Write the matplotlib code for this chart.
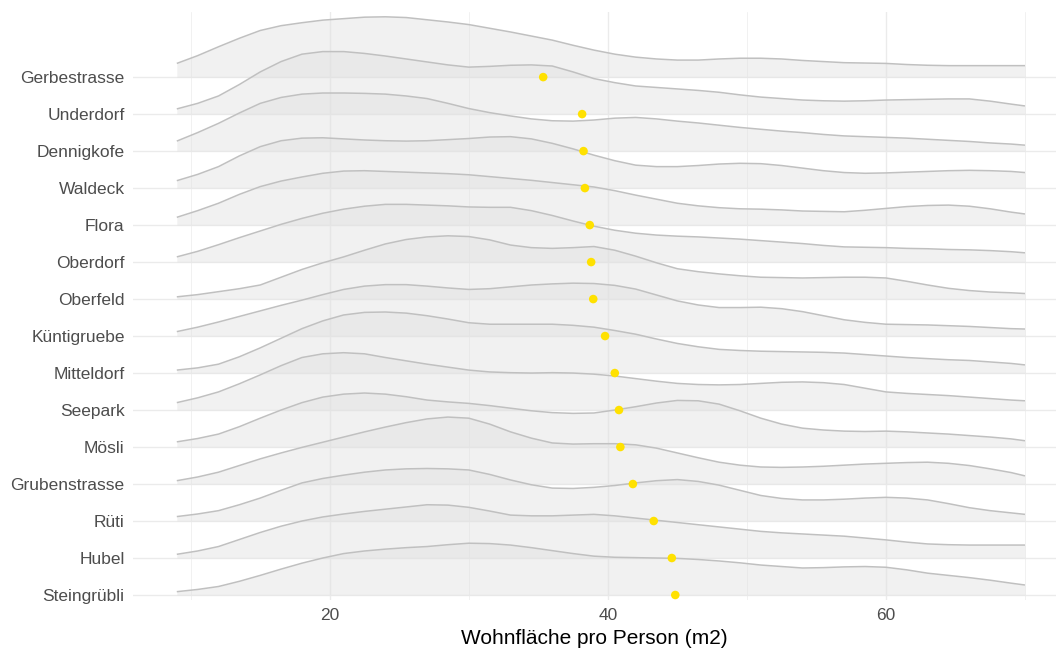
import matplotlib
matplotlib.use("Agg")
import matplotlib.pyplot as plt

plt.rcParams["font.family"] = ["Liberation Sans", "DejaVu Sans"]

# sample positions of the density outlines (m2 per person)
x_grid = [9, 10.5, 12, 13.5, 15, 16.5, 18, 19.5, 21, 22.5, 24, 25.5, 27, 28.5,
          30, 31.5, 33, 34.5, 36, 37.5, 39, 40.5, 42, 43.5, 45, 46.5, 48, 49.5,
          51, 52.5, 54, 55.5, 57, 58.5, 60, 61.5, 63, 64.5, 66, 67.5, 69, 70]

# categories bottom -> top
quartiere = ["Steingrübli", "Hubel", "Rüti", "Grubenstrasse", "Mösli", "Seepark",
             "Mitteldorf", "Küntigruebe", "Oberfeld", "Oberdorf", "Flora",
             "Waldeck", "Dennigkofe", "Underdorf", "Gerbestrasse"]

# mean living space per quarter (yellow dots)
mittelwert = [44.85, 44.6, 43.3, 41.8, 40.9, 40.8, 40.5, 39.8, 38.95, 38.8,
              38.7, 38.35, 38.25, 38.15, 35.35]

# ridge heights (scaled density, in row units) at x_grid
steingruebli = [0.09, 0.15, 0.23, 0.37, 0.53, 0.70, 0.86, 1.00, 1.12, 1.19, 1.24,
                1.28, 1.31, 1.36, 1.40, 1.39, 1.35, 1.28, 1.20, 1.12, 1.05, 1.02,
                1.01, 1.00, 0.99, 0.96, 0.92, 0.87, 0.81, 0.77, 0.73, 0.74, 0.76,
                0.77, 0.75, 0.68, 0.59, 0.53, 0.47, 0.40, 0.32, 0.27]
hubel = [0.10, 0.19, 0.31, 0.50, 0.69, 0.86, 1.00, 1.11, 1.19, 1.26, 1.32, 1.38,
         1.44, 1.43, 1.37, 1.27, 1.16, 1.14, 1.14, 1.16, 1.18, 1.14, 1.08, 1.02,
         0.96, 0.90, 0.84, 0.78, 0.72, 0.68, 0.65, 0.62, 0.59, 0.54, 0.49, 0.43,
         0.38, 0.36, 0.35, 0.35, 0.35, 0.35]
rueti = [0.12, 0.19, 0.28, 0.44, 0.62, 0.83, 1.03, 1.15, 1.24, 1.32, 1.38, 1.41,
         1.42, 1.41, 1.38, 1.26, 1.11, 0.98, 0.89, 0.88, 0.91, 0.96, 1.03, 1.09,
         1.12, 1.07, 0.97, 0.83, 0.69, 0.61, 0.57, 0.57, 0.59, 0.62, 0.64, 0.62,
         0.57, 0.47, 0.36, 0.28, 0.22, 0.18]
grubenstrasse = [0.09, 0.19, 0.32, 0.50, 0.68, 0.84, 0.99, 1.13, 1.27, 1.41, 1.54,
                 1.66, 1.76, 1.81, 1.78, 1.62, 1.41, 1.24, 1.11, 1.08, 1.09, 1.09,
                 1.06, 0.97, 0.84, 0.71, 0.59, 0.51, 0.46, 0.45, 0.46, 0.48, 0.51,
                 0.54, 0.56, 0.58, 0.59, 0.56, 0.50, 0.41, 0.31, 0.22]
moesli = [0.14, 0.23, 0.35, 0.55, 0.78, 1.00, 1.20, 1.35, 1.43, 1.46, 1.43, 1.36,
          1.27, 1.22, 1.18, 1.12, 1.05, 0.98, 0.93, 0.91, 0.92, 1.00, 1.09, 1.19,
          1.26, 1.25, 1.16, 0.98, 0.78, 0.62, 0.51, 0.46, 0.43, 0.42, 0.43, 0.41,
          0.38, 0.35, 0.31, 0.27, 0.22, 0.17]
seepark = [0.20, 0.33, 0.49, 0.71, 0.95, 1.20, 1.42, 1.52, 1.55, 1.52, 1.42, 1.33,
           1.24, 1.16, 1.08, 1.03, 1.01, 1.00, 1.01, 1.00, 0.97, 0.92, 0.85, 0.78,
           0.72, 0.69, 0.68, 0.69, 0.72, 0.75, 0.76, 0.74, 0.69, 0.59, 0.49, 0.45,
           0.42, 0.39, 0.35, 0.31, 0.27, 0.25]
mitteldorf = [0.08, 0.14, 0.24, 0.44, 0.68, 0.94, 1.20, 1.41, 1.57, 1.64, 1.65,
              1.62, 1.55, 1.46, 1.36, 1.32, 1.32, 1.32, 1.32, 1.29, 1.24, 1.15,
              1.05, 0.92, 0.80, 0.71, 0.64, 0.61, 0.59, 0.58, 0.57, 0.56, 0.54,
              0.50, 0.46, 0.42, 0.39, 0.36, 0.34, 0.30, 0.26, 0.22]
kuentigruebe = [0.12, 0.24, 0.38, 0.53, 0.68, 0.83, 0.97, 1.12, 1.26, 1.35, 1.39,
                1.39, 1.35, 1.30, 1.26, 1.28, 1.33, 1.38, 1.41, 1.43, 1.42, 1.37,
                1.27, 1.11, 0.95, 0.84, 0.77, 0.77, 0.78, 0.74, 0.66, 0.55, 0.44,
                0.37, 0.32, 0.31, 0.30, 0.28, 0.26, 0.23, 0.20, 0.19]
oberfeld = [0.06, 0.12, 0.20, 0.28, 0.38, 0.59, 0.80, 0.98, 1.14, 1.32, 1.49, 1.61,
            1.68, 1.71, 1.69, 1.60, 1.46, 1.39, 1.37, 1.39, 1.42, 1.32, 1.16, 0.98,
            0.82, 0.74, 0.68, 0.63, 0.59, 0.58, 0.57, 0.58, 0.59, 0.59, 0.57, 0.48,
            0.38, 0.29, 0.23, 0.19, 0.17, 0.15]
oberdorf = [0.14, 0.29, 0.47, 0.66, 0.84, 1.02, 1.18, 1.32, 1.43, 1.51, 1.56, 1.56,
            1.54, 1.52, 1.49, 1.48, 1.48, 1.39, 1.26, 1.11, 0.97, 0.86, 0.78, 0.73,
            0.70, 0.68, 0.65, 0.62, 0.58, 0.54, 0.50, 0.45, 0.41, 0.40, 0.39, 0.37,
            0.36, 0.34, 0.33, 0.31, 0.28, 0.25]
flora = [0.21, 0.39, 0.59, 0.83, 1.04, 1.19, 1.30, 1.40, 1.46, 1.47, 1.45, 1.43,
         1.41, 1.39, 1.36, 1.31, 1.26, 1.21, 1.15, 1.09, 1.03, 0.93, 0.81, 0.70,
         0.59, 0.52, 0.47, 0.44, 0.43, 0.41, 0.38, 0.37, 0.36, 0.40, 0.45, 0.50,
         0.53, 0.54, 0.51, 0.44, 0.35, 0.30]
waldeck = [0.20, 0.37, 0.58, 0.87, 1.12, 1.28, 1.35, 1.36, 1.33, 1.30, 1.28, 1.27,
           1.28, 1.31, 1.34, 1.38, 1.39, 1.33, 1.21, 1.06, 0.89, 0.74, 0.62, 0.58,
           0.58, 0.61, 0.65, 0.67, 0.66, 0.61, 0.54, 0.47, 0.42, 0.40, 0.41, 0.43,
           0.45, 0.47, 0.48, 0.47, 0.45, 0.42]
dennigkofe = [0.27, 0.50, 0.75, 1.03, 1.29, 1.45, 1.54, 1.57, 1.57, 1.56, 1.54,
              1.49, 1.42, 1.29, 1.15, 1.04, 0.95, 0.87, 0.82, 0.81, 0.84, 0.89,
              0.91, 0.87, 0.81, 0.76, 0.70, 0.64, 0.59, 0.54, 0.50, 0.45, 0.41,
              0.39, 0.37, 0.35, 0.32, 0.29, 0.26, 0.22, 0.19, 0.16]
underdorf = [0.14, 0.29, 0.49, 0.80, 1.14, 1.42, 1.62, 1.69, 1.69, 1.64, 1.57,
             1.49, 1.41, 1.33, 1.27, 1.29, 1.32, 1.33, 1.30, 1.14, 0.96, 0.85,
             0.76, 0.72, 0.68, 0.64, 0.59, 0.52, 0.46, 0.42, 0.38, 0.36, 0.35,
             0.36, 0.38, 0.39, 0.40, 0.41, 0.41, 0.35, 0.27, 0.22]
gerbestrasse = [0.37, 0.58, 0.82, 1.05, 1.26, 1.39, 1.47, 1.54, 1.58, 1.62, 1.63,
                1.61, 1.55, 1.49, 1.42, 1.32, 1.22, 1.11, 1.00, 0.86, 0.73, 0.62,
                0.54, 0.49, 0.46, 0.46, 0.49, 0.51, 0.51, 0.49, 0.45, 0.42, 0.39,
                0.38, 0.37, 0.34, 0.32, 0.31, 0.31, 0.31, 0.31, 0.31]

ridges = [steingruebli, hubel, rueti, grubenstrasse, moesli, seepark, mitteldorf,
          kuentigruebe, oberfeld, oberdorf, flora, waldeck, dennigkofe,
          underdorf, gerbestrasse]

fig = plt.figure(figsize=(10.56, 6.51), dpi=100)
ax = fig.add_axes([133 / 1056, 51 / 651, 923 / 1056, 588 / 651])

GRID = "#ebebeb"
for v in [10, 30, 50, 70]:
    ax.axvline(v, color=GRID, lw=0.5, zorder=0)
for v in [20, 40, 60]:
    ax.axvline(v, color=GRID, lw=1.0, zorder=0)
for i in range(len(quartiere)):
    ax.axhline(i, color=GRID, lw=1.0, zorder=0)

# top ridge first so lower ones overlap it
n = len(quartiere)
for i in range(n - 1, -1, -1):
    z = 2 + (n - i) * 2
    ys = [i + h for h in ridges[i]]
    ax.fill_between(x_grid, i, ys, color="#e0e0e0", alpha=0.45, lw=0, zorder=z)
    ax.plot(x_grid, ys, color="#c0c0c0", lw=1.1, zorder=z + 1,
            solid_joinstyle="round", solid_capstyle="butt")

ax.scatter(mittelwert, range(n), s=38, color="#ffe100", edgecolors="none",
           zorder=100)

ax.set_xlim(5.85, 72.23)
ax.set_ylim(-0.135, 15.76)
ax.set_yticks(range(n))
ax.set_yticklabels(quartiere)
ax.set_xticks([20, 40, 60])
ax.tick_params(length=0, labelsize=12.5, labelcolor="#4d4d4d", pad=6)
for s in ax.spines.values():
    s.set_visible(False)
ax.set_xlabel("Wohnfläche pro Person (m2)", fontsize=15, color="black",
              labelpad=4)

fig.savefig("out.png", dpi=100)
